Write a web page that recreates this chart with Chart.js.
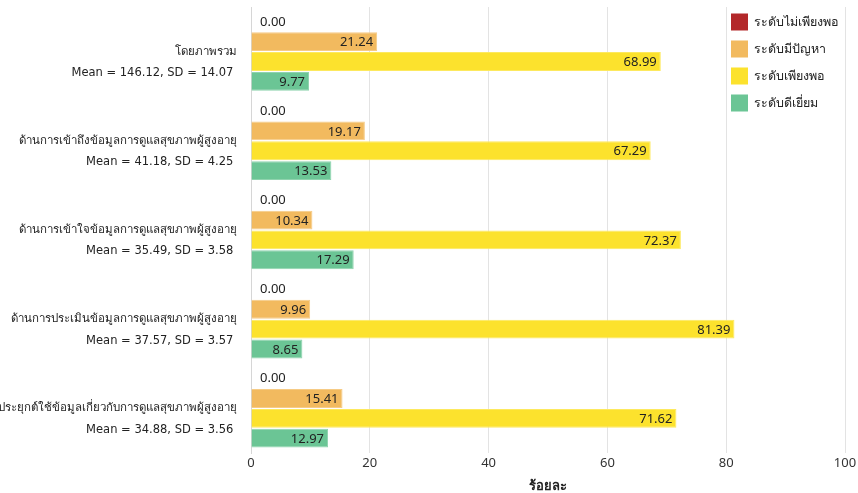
<!DOCTYPE html>
<html>
<head>
<meta charset="utf-8">
<script src="https://cdn.jsdelivr.net/npm/chart.js@4.4.0/dist/chart.umd.min.js"></script>
<style>
  html, body { margin: 0; padding: 0; background: #fff; }
  #wrap { width: 858px; height: 493px; }
</style>
</head>
<body>
<div id="wrap"><canvas id="chart" width="858" height="493"></canvas></div>
<script>
// Health-literacy levels by dimension (percent of respondents)
const categoryNames = [
  'โดยภาพรวม',
  'ด้านการเข้าถึงข้อมูลการดูแลสุขภาพผู้สูงอายุ',
  'ด้านการเข้าใจข้อมูลการดูแลสุขภาพผู้สูงอายุ',
  'ด้านการประเมินข้อมูลการดูแลสุขภาพผู้สูงอายุ',
  'ด้านการประยุกต์ใช้ข้อมูลเกี่ยวกับการดูแลสุขภาพผู้สูงอายุ'
];
const meanValues = ['146.12', '41.18', '35.49', '37.57', '34.88'];
const sdValues = ['14.07', '4.25', '3.58', '3.57', '3.56'];

const seriesNames = ['ระดับไม่เพียงพอ', 'ระดับมีปัญหา', 'ระดับเพียงพอ', 'ระดับดีเยี่ยม'];
const notEnough = [0, 0, 0, 0, 0];
const problem = [21.24, 19.17, 10.34, 9.96, 15.41];
const enough = [68.99, 67.29, 72.37, 81.39, 71.62];
const excellent = [9.77, 13.53, 17.29, 8.65, 12.97];

const xTicks = [0, 20, 40, 60, 80, 100];
const xTitle = 'ร้อยละ';

const seriesColors = ['#B3282A', '#F2BA5F', '#FCE22D', '#6BC595'];
const seriesBorders = ['#C44446', '#F6CB85', '#FDE95E', '#8FD3AE'];

const FONT = '"Noto Sans", "DejaVu Sans", sans-serif';
const LABEL_FONT = '"DejaVu Sans", "Noto Sans", sans-serif';

// Each y label: blank line so the name sits on the category centre, stats underneath
const yLabels = categoryNames.map((n, i) => ['', n, 'Mean = ' + meanValues[i] + ', SD = ' + sdValues[i] + ' ']);

const seriesData = [notEnough, problem, enough, excellent];

// Value labels: inside the bar end, or just past the bar when it has no length
const valueLabels = {
  id: 'valueLabels',
  afterDatasetsDraw(chart) {
    const ctx = chart.ctx;
    ctx.save();
    ctx.font = '13px ' + FONT;
    ctx.fillStyle = '#222';
    ctx.textBaseline = 'middle';
    chart.data.datasets.forEach((ds, di) => {
      const meta = chart.getDatasetMeta(di);
      meta.data.forEach((bar, i) => {
        const v = ds.data[i];
        const txt = v.toFixed(2);
        if (v === 0) {
          ctx.textAlign = 'left';
          ctx.fillText(txt, bar.x + 9, bar.y);
        } else {
          ctx.textAlign = 'right';
          ctx.fillText(txt, bar.x - 4, bar.y + 1);
        }
      });
    });
    ctx.restore();
  }
};

// Vertical legend placed inside the top-right of the plot
const cornerLegend = {
  id: 'cornerLegend',
  afterDraw(chart) {
    const ctx = chart.ctx;
    ctx.save();
    ctx.font = '12.5px ' + FONT;
    ctx.textBaseline = 'middle';
    ctx.textAlign = 'left';
    const x0 = 731, y0 = 22, step = 27, box = 17;
    seriesNames.forEach((name, i) => {
      const cy = y0 + i * step;
      ctx.fillStyle = seriesColors[i];
      ctx.fillRect(x0, cy - box / 2, box, box);
      ctx.fillStyle = '#222';
      ctx.fillText(name, x0 + box + 6, cy);
    });
    ctx.restore();
  }
};

new Chart(document.getElementById('chart'), {
  type: 'bar',
  data: {
    labels: yLabels,
    datasets: seriesNames.map((name, i) => ({
      label: name,
      data: seriesData[i],
      backgroundColor: seriesColors[i],
      borderColor: seriesBorders[i],
      borderWidth: 1,
      categoryPercentage: 0.89,
      barPercentage: 0.95
    }))
  },
  options: {
    indexAxis: 'y',
    responsive: false,
    animation: false,
    layout: { padding: { top: 7, right: 13, left: 0, bottom: 0 } },
    plugins: {
      legend: { display: false },
      tooltip: { enabled: false }
    },
    scales: {
      x: {
        min: 0,
        max: 100,
        afterBuildTicks(scale) { scale.ticks = xTicks.map(v => ({ value: v })); },
        grid: { color: '#E3E3E3', drawTicks: false },
        border: { display: false },
        ticks: { color: '#333', font: { size: 13, family: FONT }, padding: 2 },
        title: {
          display: true,
          text: xTitle,
          color: '#222',
          font: { size: 13, family: FONT, weight: 'bold', lineHeight: 1.0 },
          padding: { top: 4, bottom: 0 }
        },
        afterFit(scale) {
          scale.paddingLeft = 0;
          scale.paddingRight = 0;
          scale.height = 40;
        }
      },
      y: {
        grid: { display: false },
        border: { display: true, color: '#D6D6D6' },
        ticks: {
          color: '#222',
          font: { size: 11.5, family: LABEL_FONT, lineHeight: 1.87 },
          padding: 6
        },
        afterFit(scale) {
          scale.width = 251;
          scale.paddingTop = 0;
          scale.paddingBottom = 0;
        }
      }
    }
  },
  plugins: [valueLabels, cornerLegend]
});
</script>
</body>
</html>
